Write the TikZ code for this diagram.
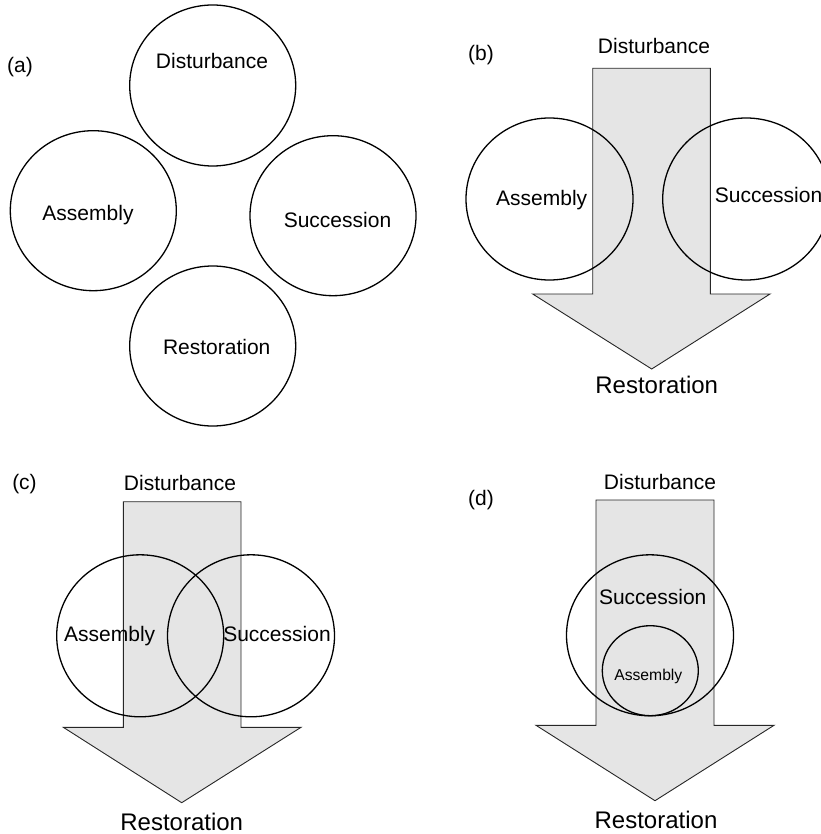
\documentclass[tikz,border=0pt]{standalone}
\usepackage{fontspec}
\setmainfont{Liberation Sans}
\usetikzlibrary{shapes.geometric}
\begin{document}
\begin{tikzpicture}[x=1pt,y=-1pt,
  flow/.style={draw=black!85,line width=0.9pt,fill=black!10,line join=miter},
  lbl/.style={inner sep=0pt,anchor=base,font=\fontsize{21}{25}\selectfont},
  big/.style={inner sep=0pt,anchor=base,font=\fontsize{24}{28}\selectfont},
  small/.style={inner sep=0pt,anchor=base,font=\fontsize{15.7}{19}\selectfont},
  ell/.style 2 args={draw=black,line width=1.3pt,ellipse,inner sep=0pt,minimum width=#1pt,minimum height=#2pt}]
\useasboundingbox (0,0) rectangle (820,834);
% ---------- (a)
\node[ell={166}{161}] (aDc) at (212.7,85.5) {};
\node[ell={166}{160}] (aAc) at (93.3,210.7) {};
\node[ell={166}{160}] (aSc) at (333,215.7) {};
\node[ell={166}{160}] (aRc) at (212.7,346) {};
\node[lbl] (aL) at (20,72.5) {(a)};
\node[lbl] (aD) at (212,68.3) {Disturbance};
\node[lbl] (aA) at (88,220) {Assembly};
\node[lbl] (aS) at (337.5,227.5) {Succession};
\node[lbl] (aR) at (216.7,354) {Restoration};
% ---------- (b)
\coordinate (bT1) at (592.7,68.3);
\coordinate (bT2) at (710.3,68.3);
\coordinate (bTip) at (651.7,369);
\draw[flow] (bT1) -- (bT2) -- (710.3,294) -- (770,294) -- (bTip) -- (532.7,294) -- (592.7,294) -- cycle;
\node[ell={167}{162}] (bAc) at (549.5,199) {};
\node[ell={167}{162}] (bSc) at (746.2,199) {};
\node[lbl] (bL) at (481,60.5) {(b)};
\node[lbl] (bD) at (654,54) {Disturbance};
\node[lbl] (bA) at (541.7,206) {Assembly};
\node[lbl] (bS) at (768.5,203) {Succession};
\node[big] (bR) at (656.7,393.6) {Restoration};
% ---------- (c)
\coordinate (cT1) at (123.3,501.7);
\coordinate (cT2) at (241,501.7);
\coordinate (cTip) at (181.7,802.7);
\draw[flow] (cT1) -- (cT2) -- (241,727.3) -- (301,727.3) -- (cTip) -- (63.3,727.3) -- (123.3,727.3) -- cycle;
\node[ell={167}{162}] (cAc) at (140.2,635.8) {};
\node[ell={167}{162}] (cSc) at (251,635.8) {};
\node[lbl] (cL) at (24.5,489) {(c)};
\node[lbl] (cD) at (180,490) {Disturbance};
\node[lbl] (cA) at (109.7,641) {Assembly};
\node[lbl] (cS) at (277,641) {Succession};
\node[big] (cR) at (181.7,830.3) {Restoration};
% ---------- (d)
\coordinate (dT1) at (596,500);
\coordinate (dT2) at (714,500);
\coordinate (dTip) at (655,800.7);
\draw[flow] (dT1) -- (dT2) -- (714,725.3) -- (774,725.3) -- (dTip) -- (536,725.3) -- (596,725.3) -- cycle;
\node[ell={167}{161}] (dSc) at (650,635.3) {};
\node[ell={96}{90}] (dAc) at (650.3,670.7) {};
\node[lbl] (dL) at (481,505.5) {(d)};
\node[lbl] (dD) at (660,489) {Disturbance};
\node[lbl] (dS) at (652.7,604) {Succession};
\node[small] (dA) at (648.3,680.6) {Assembly};
\node[big] (dR) at (656,828.6) {Restoration};
\end{tikzpicture}
\end{document}
